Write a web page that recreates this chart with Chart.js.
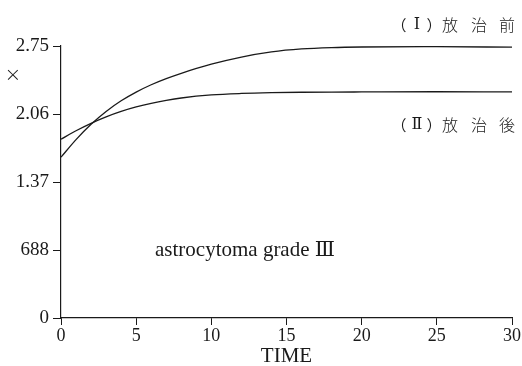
<!DOCTYPE html>
<html><head><meta charset="utf-8">
<script src="https://cdn.jsdelivr.net/npm/chart.js@4"></script>
<style>html,body{margin:0;padding:0;background:#fff}#wrap{width:522px;height:366px}</style>
</head><body><div id="wrap"><canvas id="c" width="522" height="366"></canvas></div>
<script>
const times = [0, 1, 2, 3, 4, 5, 6, 7, 8, 10, 12, 14, 16, 18, 20, 25, 30];
const beforeRT = [1627, 1805, 1960, 2090, 2198, 2286, 2360, 2422, 2476, 2568, 2640, 2692, 2722, 2736, 2742, 2745, 2740];
const afterRT = [1809, 1895, 1970, 2035, 2090, 2135, 2172, 2202, 2226, 2257, 2272, 2280, 2284, 2286, 2287, 2289, 2288];
const yTickValues = [0, 688, 1376, 2064, 2752];
const yTickLabels = ['0', '688', '1.37', '2.06', '2.75'];
const xTicks = [0, 5, 10, 15, 20, 25, 30];
const seriesNums = ['Ⅰ', 'Ⅱ'];
const seriesWords = [['放', '治', '前'], ['放', '治', '後']];
const noteText = 'astrocytoma grade Ⅲ';
const unitMark = '×';
const xTitle = 'TIME';

const ink = '#1a1a1a';
const serif = "'Liberation Serif', 'DejaVu Serif', serif";

const toPts = (xs, ys) => xs.map((x, i) => ({x, y: ys[i]}));

const annot = {
  id: 'annot',
  afterDraw(chart) {
    const ctx = chart.ctx;
    ctx.save();
    ctx.fillStyle = ink;
    ctx.textBaseline = 'middle';
    ctx.textAlign = 'center';
    // unit mark
    ctx.font = "300 20px 'DejaVu Sans'";
    ctx.fillText(unitMark, 13, 76);
    // series labels
    const ys = [25, 125];
    for (let s = 0; s < 2; s++) {
      ctx.font = "15px 'Noto Sans CJK JP'";
      ctx.fillText('（', 399, ys[s]);
      ctx.fillText('）', 434, ys[s]);
      ctx.font = "16px " + serif;
      ctx.fillText(seriesNums[s], 417, ys[s]);
      ctx.font = "300 16px 'Noto Sans CJK JP'";
      const cx = [450, 479, 507];
      seriesWords[s].forEach((ch, i) => ctx.fillText(ch, cx[i], ys[s]));
    }
    // note
    ctx.font = "21px " + serif;
    ctx.textAlign = 'left';
    ctx.fillText(noteText, 155, 250);
    ctx.restore();
  }
};

new Chart(document.getElementById('c'), {
  type: 'line',
  data: {
    datasets: [
      {label: '(Ⅰ) 放治前', data: toPts(times, beforeRT), borderColor: ink, borderWidth: 1.3, pointRadius: 0, cubicInterpolationMode: 'monotone', fill: false},
      {label: '(Ⅱ) 放治後', data: toPts(times, afterRT), borderColor: ink, borderWidth: 1.3, pointRadius: 0, cubicInterpolationMode: 'monotone', fill: false}
    ]
  },
  options: {
    responsive: false,
    animation: false,
    layout: {padding: {top: 46, right: 10, bottom: 0, left: 0}},
    plugins: {legend: {display: false}, tooltip: {enabled: false}},
    scales: {
      x: {
        type: 'linear', min: 0, max: 30,
        afterFit(s) { s.height = 48; },
        afterBuildTicks(s) { s.ticks = xTicks.map(v => ({value: v})); },
        grid: {drawOnChartArea: false, tickLength: 7, color: ink, tickColor: ink},
        border: {display: true, color: ink, width: 1.2},
        ticks: {color: ink, font: {family: serif, size: 18}, padding: 0, maxRotation: 0},
        title: {display: true, text: xTitle, color: ink, font: {family: serif, size: 21}, padding: {top: 0, bottom: -3}}
      },
      y: {
        type: 'linear', min: 0, max: 2752,
        afterFit(s) { s.width = 61; },
        afterBuildTicks(s) { s.ticks = yTickValues.map(v => ({value: v})); },
        grid: {drawOnChartArea: false, tickLength: 8, color: ink, tickColor: ink},
        border: {display: true, color: ink, width: 1.2},
        ticks: {color: ink, font: {family: serif, size: 19}, padding: 4,
          callback: (v) => { const i = yTickValues.indexOf(v); return i >= 0 ? yTickLabels[i] : ''; }}
      }
    }
  },
  plugins: [annot]
});
</script></body></html>
